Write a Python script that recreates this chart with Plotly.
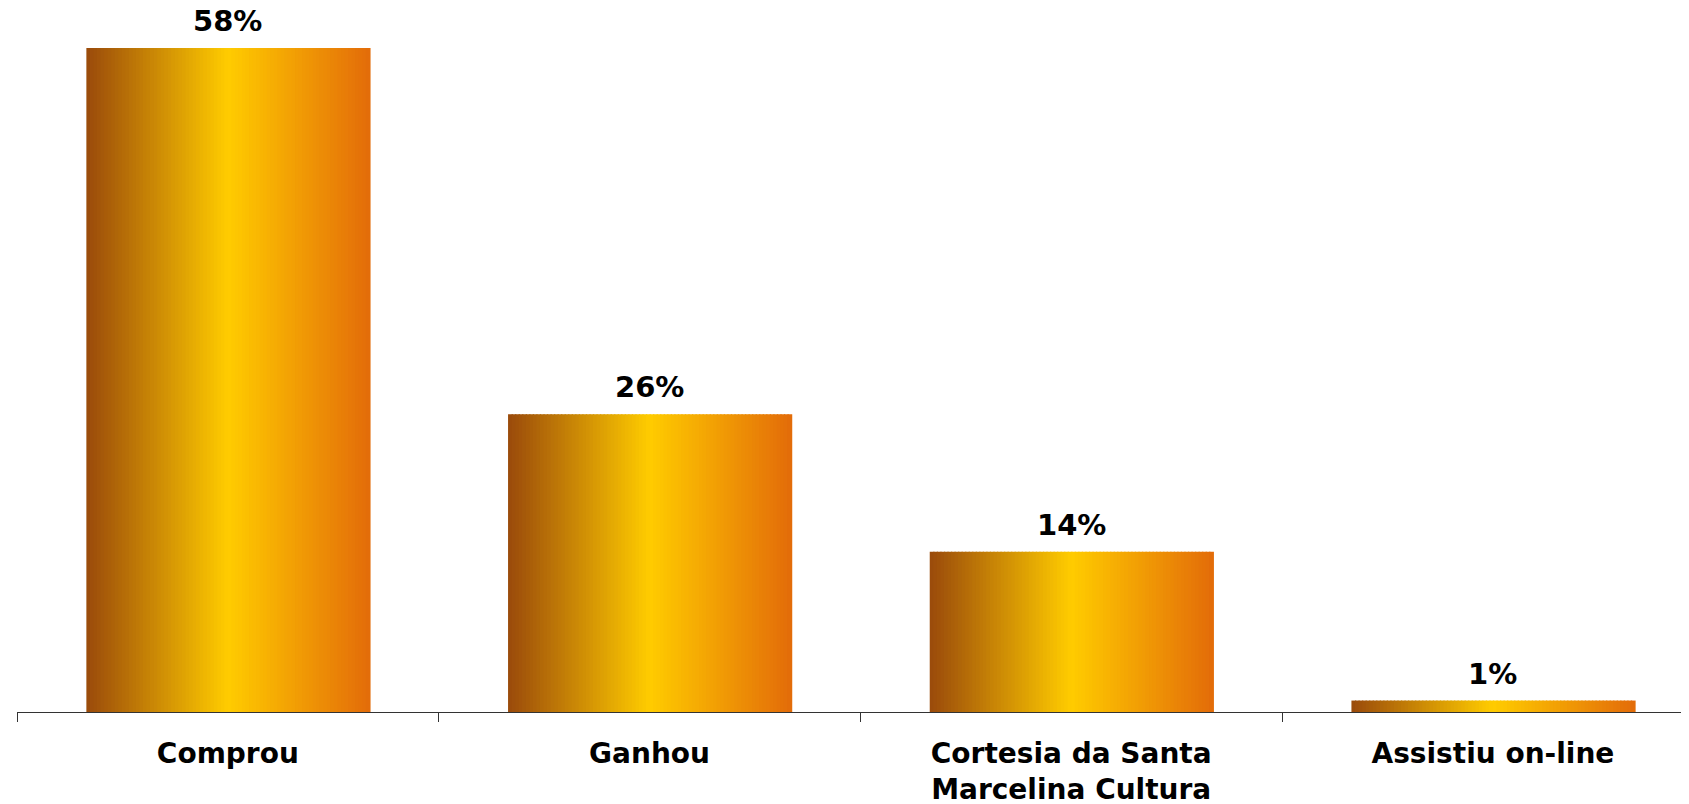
import plotly.graph_objects as go

categories = ["Comprou", "Ganhou", "Cortesia da Santa<br>Marcelina Cultura", "Assistiu on-line"]
values = [58, 26, 14, 1]
labels = ["58%", "26%", "14%", "1%"]

# horizontal gradient stops (position, rgb)
grad_stops = [(0.0, (0x9A, 0x4A, 0x0B)), (0.5, (0xFF, 0xCC, 0x00)), (1.0, (0xE3, 0x6C, 0x09))]

def grad_color(t):
    for (p0, c0), (p1, c1) in zip(grad_stops[:-1], grad_stops[1:]):
        if p0 <= t <= p1:
            f = (t - p0) / (p1 - p0)
            return "rgb(%d,%d,%d)" % tuple(round(a + (b - a) * f) for a, b in zip(c0, c1))
    return "rgb(%d,%d,%d)" % grad_stops[-1][1]

BAR_W = 0.671
N = 80
slice_w = BAR_W / N

fig = go.Figure()
for i in range(N):
    t = (i + 0.5) / N
    fig.add_trace(go.Bar(
        x=categories, y=values,
        width=slice_w * 1.35,
        offset=-BAR_W / 2 + i * slice_w,
        marker=dict(color=grad_color(t), line=dict(width=0)),
        showlegend=False, hoverinfo="skip",
    ))

for c, v, lab in zip(categories, values, labels):
    fig.add_annotation(x=c, y=v, text="<b>%s</b>" % lab, showarrow=False,
                       yanchor="bottom", yshift=8,
                       font=dict(family="DejaVu Sans", size=29, color="black"))

fig.update_layout(
    template="none",
    barmode="overlay",
    width=1689, height=804,
    margin=dict(l=9, r=0, t=0, b=100),
    paper_bgcolor="white", plot_bgcolor="white",
    showlegend=False,
    font=dict(family="DejaVu Sans", color="black"),
)
fig.update_xaxes(
    range=[-0.5, 3.484],
    showline=True, linecolor="#333333", linewidth=1.3,
    ticks="outside", tickson="boundaries", ticklen=9, tickcolor="#333333", tickwidth=1.3,
    showgrid=False, zeroline=False,
    ticklabelstandoff=16,
    tickfont=dict(family="DejaVu Sans", size=28, color="black"),
    tickvals=categories, ticktext=["<b>%s</b>" % c for c in categories],
)
fig.update_yaxes(range=[0, 61.5], visible=False, showgrid=False, zeroline=False)

fig.write_html("out.html")
